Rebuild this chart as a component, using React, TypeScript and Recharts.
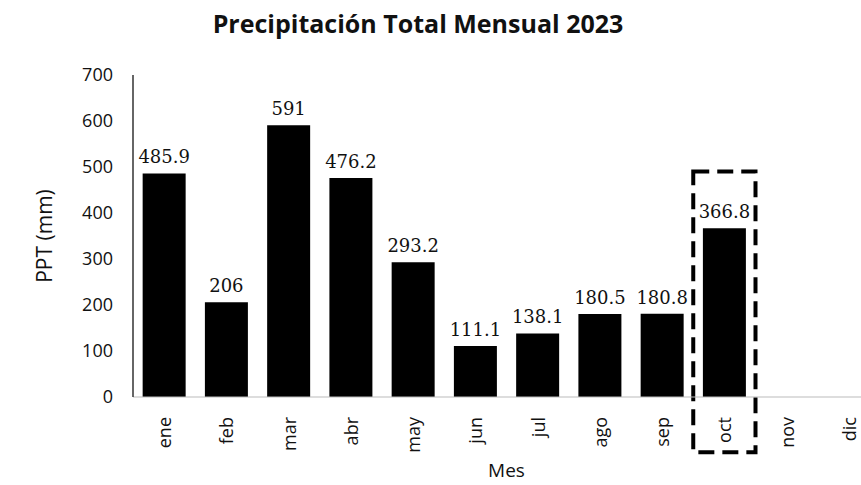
import { BarChart, Bar, XAxis, YAxis, LabelList, ReferenceArea } from 'recharts';

const months = ['ene', 'feb', 'mar', 'abr', 'may', 'jun', 'jul', 'ago', 'sep', 'oct', 'nov', 'dic'];
const precipitation: (number | null)[] = [485.9, 206, 591, 476.2, 293.2, 111.1, 138.1, 180.5, 180.8, 366.8, null, null];
const yTicks = [0, 100, 200, 300, 400, 500, 600, 700];

// highlighted month (dashed box)
const highlightMonth = 'oct';
const highlightTop = 490;
const highlightBottom = -120;

const data = months.map((mes, i) => ({ mes, ppt: precipitation[i] }));

const FONT = '"Open Sans", "Noto Sans", sans-serif';
const LABEL_FONT = '"DejaVu Serif", serif';

function MonthTick(props: any) {
  const { x, y, payload } = props;
  return (
    <text
      x={0}
      y={0}
      transform={`translate(${x},${y + 12}) rotate(-90)`}
      textAnchor="end"
      dominantBaseline="central"
      fontSize={18}
      fontFamily={FONT}
      fill="#111"
    >
      {payload.value}
    </text>
  );
}

export default function App() {
  return (
    <div style={{ position: 'absolute', left: 0, top: 0, width: 861, height: 485, overflow: 'hidden', background: '#fff' }}>
      <div
        style={{
          position: 'absolute',
          left: 0,
          width: 836,
          top: 6,
          textAlign: 'center',
          fontFamily: FONT,
          fontWeight: 700,
          fontSize: 25,
          color: '#111',
        }}
      >
        Precipitación Total Mensual 2023
      </div>
      <BarChart
        width={880}
        height={485}
        data={data}
        margin={{ top: 75, right: 0, bottom: 0, left: 0 }}
        barCategoryGap="15.5%"
        style={{ position: 'absolute', left: 0, top: 0 }}
      >
        <XAxis
          dataKey="mes"
          type="category"
          tick={<MonthTick />}
          tickLine={false}
          axisLine={{ stroke: '#bbb' }}
          height={88}
          interval={0}
          label={{ value: 'Mes', position: 'insideBottom', offset: 8, fontSize: 19, fontFamily: FONT, fill: '#111' }}
        />
        <YAxis
          width={133}
          domain={[0, 700]}
          ticks={yTicks}
          tickLine={false}
          axisLine={{ stroke: '#333', strokeWidth: 1.5 }}
          tickMargin={14}
          tick={{ fontSize: 18, fontFamily: FONT, fill: '#111' }}
          label={{ value: 'PPT (mm)', angle: -90, position: 'center', dx: -22, fontSize: 21, fontFamily: FONT, fill: '#111' }}
        />
        <Bar dataKey="ppt" fill="#000" isAnimationActive={false}>
          <LabelList dataKey="ppt" position="top" offset={10} fontSize={18} fontFamily={LABEL_FONT} fill="#111" />
        </Bar>
        <ReferenceArea
          x1={highlightMonth}
          x2={highlightMonth}
          y1={highlightBottom}
          y2={highlightTop}
          ifOverflow="visible"
          fill="none"
          stroke="#000"
          strokeWidth={4}
          strokeDasharray="16 8"
        />
      </BarChart>
    </div>
  );
}
